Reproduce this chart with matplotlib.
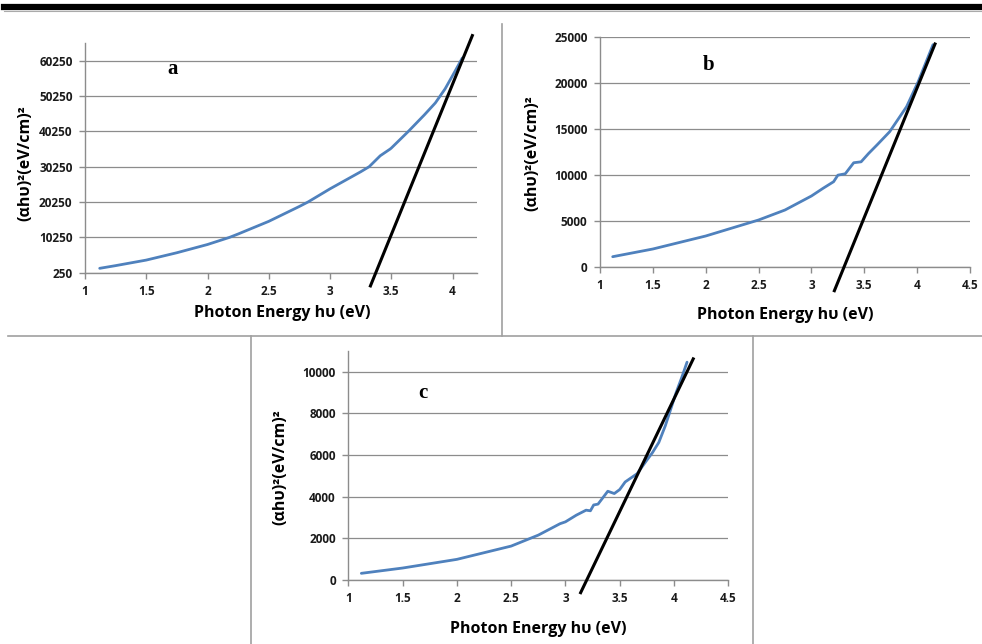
import matplotlib
matplotlib.use("Agg")
import matplotlib.pyplot as plt
from matplotlib.lines import Line2D

W, H = 982, 644

# panel a
a_energy = [1.12, 1.25, 1.5, 1.75, 2.0, 2.18, 2.25, 2.5, 2.75, 2.82, 3.0, 3.25, 3.32,
            3.41, 3.49, 3.5, 3.64, 3.77, 3.86, 3.94, 4.01, 4.08]
a_value = [1490, 2250, 3820, 5900, 8230, 10250, 11200, 14780, 19000, 20250, 23980,
           28800, 30250, 33340, 35220, 35500, 40250, 44900, 48300, 52300, 56600, 61000]
a_fit = ([3.33, 4.162], [-3490, 67350])

# panel b
b_energy = [1.12, 1.5, 2.0, 2.5, 2.75, 3.0, 3.11, 3.21, 3.25, 3.32, 3.40, 3.47,
            3.54, 3.62, 3.74, 3.90, 4.01, 4.15]
b_value = [1087, 1924, 3337, 5076, 6163, 7685, 8522, 9240, 9950, 10100, 11300, 11400,
           12300, 13230, 14670, 17390, 20110, 24130]
b_fit = ([3.217, 4.169], [-2610, 24207])

# panel c
c_energy = [1.12, 1.5, 2.0, 2.5, 2.75, 2.95, 3.0, 3.1, 3.19, 3.23, 3.26, 3.30, 3.39,
            3.45, 3.50, 3.55, 3.66, 3.75, 3.80, 3.86, 3.92, 3.97, 4.02, 4.07, 4.12]
c_value = [320, 574, 990, 1627, 2153, 2700, 2790, 3110, 3350, 3320, 3600, 3640, 4258,
           4148, 4340, 4703, 5100, 5750, 6100, 6600, 7400, 8200, 9000, 9700, 10450]
c_fit = ([3.14, 4.177], [-608, 10608])

x_ticks_a = [1, 1.5, 2, 2.5, 3, 3.5, 4]
x_ticks_bc = [1, 1.5, 2, 2.5, 3, 3.5, 4, 4.5]
y_ticks_a = [250, 10250, 20250, 30250, 40250, 50250, 60250]
y_ticks_b = [0, 5000, 10000, 15000, 20000, 25000]
y_ticks_c = [0, 2000, 4000, 6000, 8000, 10000]

SANS = ["Open Sans", "DejaVu Sans"]
BLUE = "#4F81BD"
GRID = "#8c8c8c"

fig = plt.figure(figsize=(W / 100, H / 100), dpi=100)


def fx(x):
    return x / W


def fy(y):
    return 1 - y / H


def make_axes(l, r, t, b):
    return fig.add_axes([fx(l), fy(b), fx(r - l), (b - t) / H])


def style(ax, xlim, ylim, xt, yt, xlab, xlab_xy, ylab_xy, letter, letter_xy):
    ax.set_xlim(*xlim)
    ax.set_ylim(*ylim)
    ax.set_xticks(xt)
    ax.set_xticklabels([f"{v:g}" for v in xt])
    ax.set_yticks(yt)
    ax.set_yticklabels([str(v) for v in yt])
    for s in ("top", "right"):
        ax.spines[s].set_visible(False)
    for s in ("left", "bottom"):
        ax.spines[s].set_color(GRID)
        ax.spines[s].set_linewidth(1.0)
    ax.grid(axis="y", color=GRID, linewidth=0.9)
    ax.set_axisbelow(True)
    ax.tick_params(direction="out", length=4, width=1.0, color=GRID, pad=5,
                   labelsize=8.5)
    for lab in ax.get_xticklabels() + ax.get_yticklabels():
        lab.set_fontfamily(SANS)
        lab.set_fontweight("bold")
        lab.set_color("#1a1a1a")
    fig.text(fx(xlab_xy[0]), fy(xlab_xy[1]), xlab, ha="center", va="center",
             fontsize=11.5, fontweight="bold", family=SANS)
    fig.text(fx(ylab_xy[0]), fy(ylab_xy[1]), "(αhυ)²(eV/cm)²", ha="center",
             va="center", rotation=90, fontsize=11.5, fontweight="bold", family=SANS)
    fig.text(fx(letter_xy[0]), fy(letter_xy[1]), letter, ha="center", va="center",
             fontsize=15, fontweight="bold", family="Liberation Serif")


panels = [
    ((85, 477, 43, 272.7), a_energy, a_value, a_fit, (1, 4.2), (250, 65250),
     x_ticks_a, y_ticks_a, "Photon Energy hυ (eV)", (282, 313), (25, 163), "a", (173, 69)),
    ((600, 970, 36.7, 266.7), b_energy, b_value, b_fit, (1, 4.5), (0, 25000),
     x_ticks_bc, y_ticks_b, "Photon Energy hυ (eV)", (785, 315), (532, 153), "b", (709, 65)),
    ((348.3, 728.3, 350.7, 580), c_energy, c_value, c_fit, (1, 4.5), (0, 11000),
     x_ticks_bc, y_ticks_c, "Photon Energy hυ (eV)", (538, 629), (280, 467), "c", (423, 393)),
]

for box, e, v, fit, xl, yl, xt, yt, xlab, xlab_xy, ylab_xy, letter, letter_xy in panels:
    ax = make_axes(*box)
    ax.plot(e, v, color=BLUE, linewidth=2.0, solid_capstyle="round",
            solid_joinstyle="round", zorder=3)
    ax.plot(fit[0], fit[1], color="black", linewidth=2.2, clip_on=False, zorder=4)
    style(ax, xl, yl, xt, yt, xlab, xlab_xy, ylab_xy, letter, letter_xy)

# page decorations: top rule and panel frames
fig.add_artist(Line2D([fx(4), fx(982)], [fy(7), fy(7)], color="black", linewidth=4.5))
fig.add_artist(Line2D([fx(4), fx(982)], [fy(10.5), fy(10.5)], color="#aaaaaa", linewidth=0.8))
sep = "#a0a0a0"
fig.add_artist(Line2D([fx(8), fx(982)], [fy(336), fy(336)], color=sep, linewidth=1.2))
fig.add_artist(Line2D([fx(502), fx(502)], [fy(24), fy(336)], color=sep, linewidth=1.2))
fig.add_artist(Line2D([fx(251), fx(251)], [fy(336), fy(644)], color=sep, linewidth=1.2))
fig.add_artist(Line2D([fx(753), fx(753)], [fy(336), fy(644)], color=sep, linewidth=1.2))

fig.savefig("out.png", dpi=100)
